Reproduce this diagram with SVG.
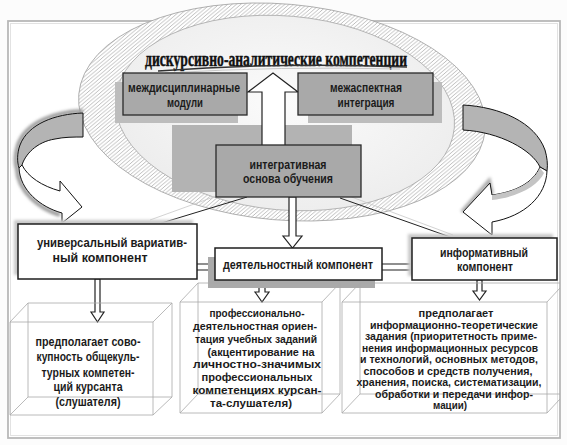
<svg xmlns="http://www.w3.org/2000/svg" width="567" height="445" viewBox="0 0 567 445">
<defs>
<pattern id="hatch" width="4" height="4" patternUnits="userSpaceOnUse"><path d="M-1,1 L1,-1 M0,4 L4,0 M3,5 L5,3" stroke="#8c8c8c" stroke-width="0.6"/></pattern>
<radialGradient id="inner" cx="50%" cy="45%" r="60%"><stop offset="0" stop-color="#fbfbfb"/><stop offset="1" stop-color="#ececec"/></radialGradient>
<filter id="blur" x="-20%" y="-20%" width="140%" height="140%"><feGaussianBlur stdDeviation="1.6"/></filter>
<style>
.t{font-family:"Liberation Sans",Arial,sans-serif;font-weight:bold;fill:#1b1b1b;text-anchor:middle;font-size:13px}
.s{font-size:11.5px}
.xs{font-size:10.8px}
.gb{fill:#a9a9a9;stroke:#2a2a2a;stroke-width:1.3}
.wb{fill:#fff;stroke:#1e1e1e;stroke-width:1.5}
.sh{fill:#bdbdbd}
.hol{fill:#fff;stroke:#222;stroke-width:1.2;stroke-linejoin:miter}
.wire{fill:none;stroke:#a8a8a8;stroke-width:0.8}
.con{stroke:#333;stroke-width:1.1;fill:none}
</style>
</defs>
<rect width="567" height="445" fill="#fcfcfc"/>
<g id="frame">
<rect x="8" y="21" width="552" height="417" fill="#fff" stroke="#b8b8b8" stroke-width="1.8"/>
<rect x="10.5" y="23.5" width="547" height="412" fill="none" stroke="#e2e2e2" stroke-width="1"/>
</g>
<g id="ring">
<ellipse cx="282" cy="112" rx="204" ry="108" transform="rotate(5 282 112)" fill="#fff"/>
<ellipse cx="282" cy="112" rx="204" ry="108" transform="rotate(5 282 112)" fill="url(#hatch)" stroke="#a0a0a0" stroke-width="0.8"/>
<ellipse cx="285" cy="113" rx="170" ry="97" transform="rotate(5 285 113)" fill="url(#inner)" stroke="#a8a8a8" stroke-width="0.8"/>
</g>
<g id="title">
<text x="276" y="66" font-family="'Liberation Serif',serif" font-weight="bold" font-size="22" fill="#111" stroke="#111" stroke-width="0.5" text-anchor="middle" textLength="262" lengthAdjust="spacingAndGlyphs">дискурсивно-аналитические компетенции</text>
<path d="M158,71 Q 280,62 407,67" fill="none" stroke="#333" stroke-width="1.4"/>
<path d="M165,73 Q 280,66 400,69" fill="none" stroke="#bbb" stroke-width="0.8"/>
</g>
<g id="shadows">
<rect x="172" y="125" width="180" height="67" fill="#b3b3b3"/>
<rect x="115" y="82" width="123" height="41" class="sh"/>
<rect x="308" y="82" width="134" height="41" class="sh"/>
</g>
<g id="connectors">
<path class="hol" d="M262,146 L262,92 L248,92 L273,73 L298,92 L285,92 L285,146 Z"/>
<line x1="247" y1="197" x2="155" y2="225" stroke="#222" stroke-width="1"/>
<line x1="233" y1="190" x2="150" y2="220" stroke="#c8c8c8" stroke-width="0.8"/>
<line x1="340" y1="198" x2="453" y2="238" stroke="#222" stroke-width="1"/>
<line x1="333" y1="190" x2="453" y2="235" stroke="#c8c8c8" stroke-width="0.8"/>
<path class="hol" d="M289,197 L289,236 L283,236 L292.5,248 L302,236 L296,236 L296,197 Z"/>
<line x1="196" y1="264" x2="216" y2="264" class="con"/>
<line x1="196" y1="270" x2="216" y2="270" class="con"/>
<line x1="381" y1="264" x2="413" y2="264" class="con"/>
<line x1="381" y1="270" x2="413" y2="270" class="con"/>
<path class="hol" d="M95,279 L95,312 L91,312 L97.5,322 L104,312 L100,312 L100,279 Z"/>
<path class="hol" d="M259,280 L259,292 L255,292 L262,302 L269,292 L265,292 L265,280 Z"/>
<path class="hol" d="M477,280 L477,291 L473,291 L479.5,300 L486,291 L482,291 L482,280 Z"/>
</g>
<g id="arrow-left">
<path d="M83,111 C 55,112 26,122 18,145 C 15,155 15,163 17,169 C 18,192 40,209 60,215" fill="none" stroke="#9a9a9a" stroke-width="4" filter="url(#blur)"/>
<path d="M83,113 C 55,114 28,124 20,145 C 17,153 17,162 19,168 L 22,165 C 25,155 36,142 55,139 C 64,137 74,137 83,137 Z" fill="#b4b4b4" stroke="#111" stroke-width="1"/>
<path d="M19,168 C 20,190 40,207 62,213 L 62,223 L 82,207 L 60,181 L 60,191 C 42,186 28,177 22,165 Z" fill="#fff" stroke="#111" stroke-width="1"/>
</g>
<g id="arrow-right">
<path d="M462,212 L489,181 L492,194" fill="none" stroke="#aaa" stroke-width="4" filter="url(#blur)"/>
<path d="M463,105 C 500,107 535,122 545,150 C 547,157 548,164 547,171 L 540,167 C 532,150 500,132 463,130 Z" fill="#b4b4b4" stroke="#111" stroke-width="1"/>
<path d="M547,171 C 546,196 525,216 492,222 L 492,235 L 463,212 L 490,183 L 492,195 C 515,192 533,183 540,167 Z" fill="#fff" stroke="#111" stroke-width="1"/>
<path d="M540,168 C 533,183 515,192 492,195 L 492,200 C 518,197 538,186 544,173 Z" fill="#c4c4c4"/>
</g>
<g id="node-mezhdisc">
<rect x="123" y="73" width="124" height="42" class="gb"/>
<text class="t" x="184" y="92" textLength="112" lengthAdjust="spacingAndGlyphs">междисциплинарные</text>
<text class="t" x="185" y="107" textLength="36" lengthAdjust="spacingAndGlyphs">модули</text>
</g>
<g id="node-mezhasp">
<rect x="298" y="73" width="135" height="42" class="gb"/>
<text class="t" x="366" y="92" textLength="72" lengthAdjust="spacingAndGlyphs">межаспектная</text>
<text class="t" x="366" y="107" textLength="57" lengthAdjust="spacingAndGlyphs">интеграция</text>
</g>
<g id="node-integr">
<rect x="216" y="145" width="145" height="52" class="gb"/>
<text class="t" x="288" y="169" textLength="77" lengthAdjust="spacingAndGlyphs">интегративная</text>
<text class="t" x="288" y="183" textLength="90" lengthAdjust="spacingAndGlyphs">основа обучения</text>
</g>
<g id="node-univ">
<rect x="14" y="220" width="179" height="55" fill="#c8c8c8" filter="url(#blur)"/>
<rect x="18" y="224" width="179" height="55" class="wb"/>
<text class="t" x="112" y="247" textLength="150" lengthAdjust="spacingAndGlyphs">универсальный вариатив-</text>
<text class="t" x="100" y="262" textLength="95" lengthAdjust="spacingAndGlyphs">ный компонент</text>
</g>
<g id="node-deyat">
<rect x="208" y="257" width="167" height="31" fill="#aaaaaa"/>
<rect x="215" y="248" width="167" height="32" class="wb"/>
<text class="t" x="298" y="269" textLength="150" lengthAdjust="spacingAndGlyphs">деятельностный компонент</text>
</g>
<g id="node-inform">
<rect x="408" y="234" width="145" height="42" fill="#c8c8c8" filter="url(#blur)"/>
<rect x="412" y="238" width="145" height="42" class="wb"/>
<text class="t" x="484" y="257" textLength="88" lengthAdjust="spacingAndGlyphs">информативный</text>
<text class="t" x="485" y="271" textLength="56" lengthAdjust="spacingAndGlyphs">компонент</text>
</g>
<g id="box-1">
<path class="wire" d="M10,322 H153 V415 H10 Z M28,303 H172 V397 H28 Z M10,322 L28,303 M153,322 L172,303 M153,415 L172,397 M10,415 L28,397"/>
<text class="t" x="88" y="346" textLength="105" lengthAdjust="spacingAndGlyphs">предполагает сово-</text>
<text class="t" x="88" y="361" textLength="103" lengthAdjust="spacingAndGlyphs">купность общекуль-</text>
<text class="t" x="88" y="377" textLength="93" lengthAdjust="spacingAndGlyphs">турных компетен-</text>
<text class="t" x="88" y="391" textLength="69" lengthAdjust="spacingAndGlyphs">ций курсанта</text>
<text class="t" x="88" y="406" textLength="65" lengthAdjust="spacingAndGlyphs">(слушателя)</text>
</g>
<g id="box-2">
<path class="wire" d="M180,302 H322 V413 H180 Z M198,283 H340 V394 H198 Z M180,302 L198,283 M322,302 L340,283 M322,413 L340,394 M180,413 L198,394"/>
<text class="t s" x="257" y="317" textLength="95" lengthAdjust="spacingAndGlyphs">профессионально-</text>
<text class="t s" x="255" y="329.9" textLength="124" lengthAdjust="spacingAndGlyphs">деятельностная ориен-</text>
<text class="t s" x="256" y="342.7" textLength="122" lengthAdjust="spacingAndGlyphs">тация учебных заданий</text>
<text class="t s" x="261" y="355.6" textLength="107" lengthAdjust="spacingAndGlyphs">(акцентирование на</text>
<text class="t s" x="257" y="368.4" textLength="128" lengthAdjust="spacingAndGlyphs">личностно-значимых</text>
<text class="t s" x="257" y="381.3" textLength="111" lengthAdjust="spacingAndGlyphs">профессиональных</text>
<text class="t s" x="257" y="394.1" textLength="129" lengthAdjust="spacingAndGlyphs">компетенциях курсан-</text>
<text class="t s" x="251" y="407" textLength="82" lengthAdjust="spacingAndGlyphs">та-слушателя)</text>
</g>
<g id="box-3">
<path class="wire" d="M342,302 H547 V413 H342 Z M360,283 H560 M360,283 V394 H560 M342,302 L360,283 M547,302 L560,288 M547,413 L560,399 M342,413 L360,394"/>
<text class="t xs" x="456" y="317" textLength="75" lengthAdjust="spacingAndGlyphs">предполагает</text>
<text class="t xs" x="454" y="328.5" textLength="168" lengthAdjust="spacingAndGlyphs">информационно-теоретические</text>
<text class="t xs" x="451" y="340" textLength="172" lengthAdjust="spacingAndGlyphs">задания (приоритетность приме-</text>
<text class="t xs" x="450" y="351.5" textLength="176" lengthAdjust="spacingAndGlyphs">нения информационных ресурсов</text>
<text class="t xs" x="449" y="363" textLength="178" lengthAdjust="spacingAndGlyphs">и технологий, основных методов,</text>
<text class="t xs" x="448" y="374.5" textLength="169" lengthAdjust="spacingAndGlyphs">способов и средств получения,</text>
<text class="t xs" x="449" y="386" textLength="185" lengthAdjust="spacingAndGlyphs">хранения, поиска, систематизации,</text>
<text class="t xs" x="454" y="397.5" textLength="158" lengthAdjust="spacingAndGlyphs">обработки и передачи инфор-</text>
<text class="t xs" x="450" y="409" textLength="34" lengthAdjust="spacingAndGlyphs">мации)</text>
</g>
</svg>
